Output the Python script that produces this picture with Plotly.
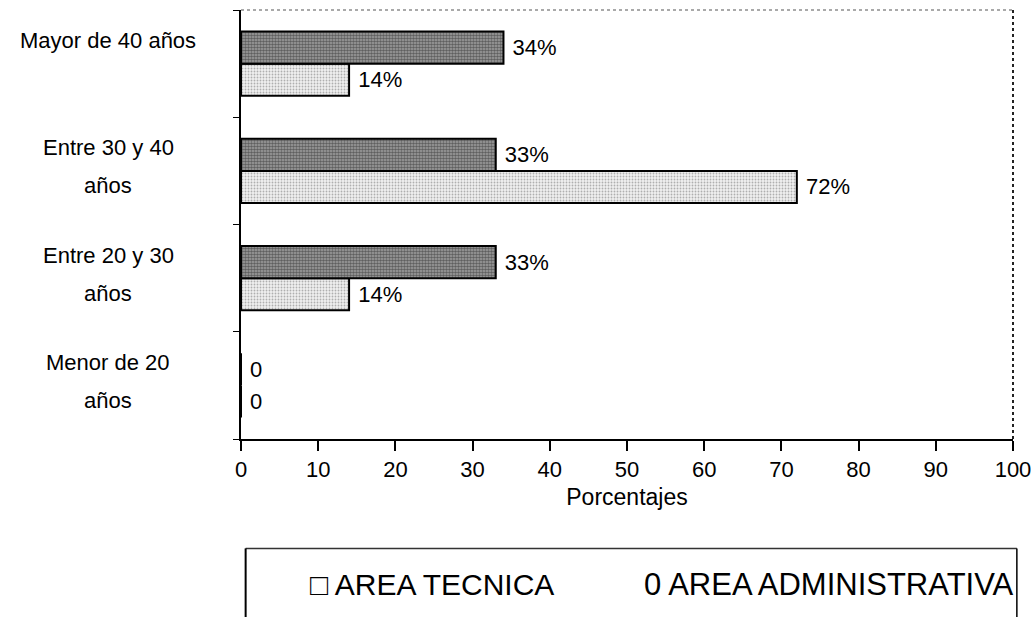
import plotly.graph_objects as go

# Age groups, bottom to top on the category axis
age_groups = ["Menor de 20 años", "Entre 20 y 30 años", "Entre 30 y 40 años", "Mayor de 40 años"]
# Wrapped label lines for each age group (same order)
label_line1 = ["Menor de 20", "Entre 20 y 30", "Entre 30 y 40", "Mayor de 40 años"]
label_line2 = ["años", "años", "años", ""]

# Percentages per staff area
tecnica = [0, 14, 72, 14]
administrativa = [0, 33, 33, 34]

x_ticks = [0, 10, 20, 30, 40, 50, 60, 70, 80, 90, 100]
legend_left = "□ AREA TECNICA"
legend_right = "0 AREA ADMINISTRATIVA"

FONT = "Liberation Sans, Arial, sans-serif"


def pct_labels(values):
    return [" " + (f"{v}%" if v else "0") for v in values]


fig = go.Figure()
fig.add_trace(go.Bar(
    y=age_groups, x=tecnica, orientation="h", name="AREA TECNICA",
    text=pct_labels(tecnica), textposition="outside", cliponaxis=False,
    textfont=dict(family=FONT, size=22, color="black"),
    marker=dict(
        color="#efefef",
        line=dict(color="black", width=2),
        pattern=dict(shape=".", size=3, solidity=0.3, fgcolor="#6e6e6e", bgcolor="#f0f0f0"),
    ),
))
fig.add_trace(go.Bar(
    y=age_groups, x=administrativa, orientation="h", name="AREA ADMINISTRATIVA",
    text=pct_labels(administrativa), textposition="outside", cliponaxis=False,
    textfont=dict(family=FONT, size=22, color="black"),
    marker=dict(
        color="#8c8c8c",
        line=dict(color="black", width=2),
        pattern=dict(shape=".", size=3, solidity=0.55, fgcolor="#1e1e1e", bgcolor="#a0a0a0"),
    ),
))

# Category labels, two lines each, centred to the left of the axis
annotations = []
for cat, l1, l2 in zip(age_groups, label_line1, label_line2):
    annotations.append(dict(
        x=-0.172, xref="paper", y=cat, yref="y", yshift=23, text=l1,
        showarrow=False, xanchor="center", yanchor="middle",
        font=dict(family=FONT, size=22, color="black"),
    ))
    if l2:
        annotations.append(dict(
            x=-0.172, xref="paper", y=cat, yref="y", yshift=-15, text=l2,
            showarrow=False, xanchor="center", yanchor="middle",
            font=dict(family=FONT, size=22, color="black"),
        ))

# Legend strip below the chart
annotations.append(dict(
    x=0.087, xref="paper", y=-0.34, yref="paper", text=legend_left,
    showarrow=False, xanchor="left", yanchor="middle",
    font=dict(family=FONT, size=30, color="black"),
))
annotations.append(dict(
    x=0.52, xref="paper", y=-0.34, yref="paper", text=legend_right,
    showarrow=False, xanchor="left", yanchor="middle",
    font=dict(family=FONT, size=31, color="black"),
))

shapes = [
    # top and right frame of the plot area
    dict(type="line", xref="paper", yref="paper", x0=0, x1=1, y0=1, y1=1,
         line=dict(color="#555555", width=1.2, dash="dot")),
    dict(type="line", xref="paper", yref="paper", x0=1, x1=1, y0=0, y1=1,
         line=dict(color="#222222", width=2, dash="dot")),
    # legend box (runs off the bottom of the page)
    dict(type="line", xref="paper", yref="paper", x0=0.006, x1=1.005, y0=-0.255, y1=-0.255,
         line=dict(color="#333333", width=1.5)),
    dict(type="line", xref="paper", yref="paper", x0=0.006, x1=0.006, y0=-0.255, y1=-0.5,
         line=dict(color="black", width=2)),
    dict(type="line", xref="paper", yref="paper", x0=1.005, x1=1.005, y0=-0.255, y1=-0.5,
         line=dict(color="black", width=1.5)),
]

fig.update_layout(
    width=1033, height=617,
    margin=dict(l=241, r=20, t=10, b=178),
    paper_bgcolor="white", plot_bgcolor="white",
    barmode="group", bargap=0.40, bargroupgap=0,
    showlegend=False,
    font=dict(family=FONT, color="black"),
    annotations=annotations, shapes=shapes,
    xaxis=dict(
        range=[0, 100], tickvals=x_ticks, ticks="outside", ticklen=10, tickwidth=1.5,
        tickcolor="black", showline=True, linecolor="black", linewidth=1.5,
        showgrid=False, zeroline=False, automargin=False, ticklabeloverflow="allow",
        tickfont=dict(family=FONT, size=22, color="black"),
        title=dict(text="Porcentajes", font=dict(family=FONT, size=23, color="black"), standoff=8),
    ),
    yaxis=dict(
        showticklabels=False, ticks="outside", ticklen=6, tickcolor="black",
        tickson="boundaries", showline=True, linecolor="black", linewidth=2,
        showgrid=False, zeroline=False,
    ),
)

fig.write_html("out.html")
